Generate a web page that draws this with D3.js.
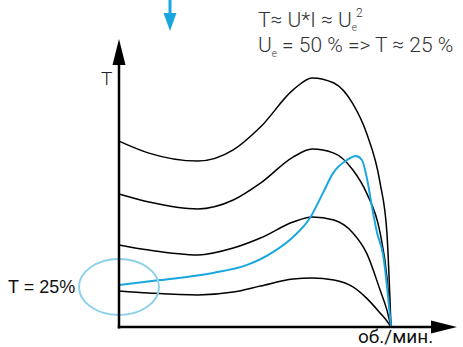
<!DOCTYPE html>
<html><head><meta charset="utf-8">
<script src="https://cdn.jsdelivr.net/npm/d3@7"></script>
<style>
html,body{margin:0;padding:0;background:#fff;}
svg{display:block;}
</style></head>
<body>
<svg id="chart" width="463" height="347"></svg>
<script>
// Speed grid (% of synchronous speed) shared by the black torque curves
const speedGrid = [0, 11, 29, 42, 52, 64, 71, 79, 86, 91, 96, 98.5, 100];
// Torque curves (% of max scale) for decreasing supply voltage
const torqueU100 = [65.0, 60.8, 58.0, 61.9, 69.9, 82.9, 87.1, 85.3, 78.0, 67.8, 50.3, 32.9, 0];
const torqueU80  = [46.5, 43.7, 41.3, 44.4, 50.3, 59.4, 62.2, 60.8, 54.9, 46.9, 32.9, 17.5, 0];
const torqueU65  = [28.7, 26.9, 25.2, 27.6, 31.1, 36.7, 38.5, 37.4, 32.9, 25.9, 12.9, 5.9, 0];
const torqueU45  = [12.6, 11.9, 11.2, 12.2, 14.3, 16.8, 17.1, 16.4, 14.0, 10.1, 4.9, 2.1, 0];
// Load (blue) curve
const loadSpeed  = [0, 15.1, 34.6, 47.1, 56.6, 64.0, 70.2, 75.0, 78.7, 83.8, 87.1, 89.3, 91.5, 93.0, 94.9, 97.1, 100];
const loadTorque = [14.7, 16.4, 18.9, 21.7, 26.2, 31.5, 38.1, 46.9, 53.8, 58.4, 59.8, 58.4, 50.3, 42.0, 32.9, 25.2, 0];

const blackSeries = [torqueU100, torqueU80, torqueU65, torqueU45];

const svg = d3.select("#chart");
const x = d3.scaleLinear().domain([0, 100]).range([119, 391]);
const y = d3.scaleLinear().domain([0, 100]).range([327, 41]);

const line = d3.line().x(d => x(d[0])).y(d => y(d[1])).curve(d3.curveMonotoneX);

// Black curves
blackSeries.forEach(s => {
  svg.append("path")
    .datum(speedGrid.map((v, i) => [v, s[i]]))
    .attr("d", line)
    .attr("fill", "none")
    .attr("stroke", "#000")
    .attr("stroke-width", 1.5);
});

// Blue load curve
svg.append("path")
  .datum(loadSpeed.map((v, i) => [v, loadTorque[i]]))
  .attr("d", line)
  .attr("fill", "none")
  .attr("stroke", "#1aa7e0")
  .attr("stroke-width", 2);

// Ellipse highlight
svg.append("ellipse")
  .attr("cx", x(0)).attr("cy", 287)
  .attr("rx", 40).attr("ry", 28)
  .attr("fill", "none")
  .attr("stroke", "#8dd1ea")
  .attr("stroke-width", 2);

// Axes
svg.append("line").attr("x1", x(0)).attr("x2", x(0)).attr("y1", 60).attr("y2", 328.5)
  .attr("stroke", "#000").attr("stroke-width", 2.5);
svg.append("line").attr("x1", x(0) - 1.2).attr("x2", 436).attr("y1", y(0)).attr("y2", y(0))
  .attr("stroke", "#000").attr("stroke-width", 2.5);
svg.append("path").attr("d", `M${x(0)},39 L${x(0) + 6.5},65 L${x(0) - 6.5},65 Z`).attr("fill", "#000");
svg.append("path").attr("d", `M457,${y(0)} L431,${y(0) - 6.5} L431,${y(0) + 6.5} Z`).attr("fill", "#000");

// Blue arrow at top
svg.append("line").attr("x1", 170).attr("x2", 170).attr("y1", 0).attr("y2", 16)
  .attr("stroke", "#1aa7e0").attr("stroke-width", 3);
svg.append("path").attr("d", "M163.5,13 L176.5,13 L170,31 Z").attr("fill", "#1aa7e0");

// Texts
const lightFont = "Roboto, 'Liberation Sans', sans-serif";
svg.append("text").attr("x", 101).attr("y", 85)
  .attr("font-family", lightFont).attr("font-weight", 300).attr("font-size", 19).attr("fill", "#222").text("T");

svg.append("text").attr("x", 358).attr("y", 343)
  .attr("font-family", lightFont).attr("font-weight", 400).attr("font-size", 19).attr("fill", "#111").text("об./мин.");

svg.append("text").attr("x", 8).attr("y", 293)
  .attr("font-family", "'Liberation Sans', Arial, sans-serif").attr("font-size", 18).attr("fill", "#111").text("T = 25%");

const t1 = svg.append("text").attr("x", 258).attr("y", 27)
  .attr("font-family", lightFont).attr("font-weight", 300).attr("font-size", 21).attr("fill", "#333");
t1.append("tspan").text("T≈ U*I ≈ U");
t1.append("tspan").attr("font-size", 10).attr("dy", 4).text("e");
t1.append("tspan").attr("font-size", 12).attr("dy", -14).attr("dx", -1).text("2");

const t2 = svg.append("text").attr("x", 258).attr("y", 52)
  .attr("font-family", lightFont).attr("font-weight", 300).attr("font-size", 21).attr("fill", "#333");
t2.append("tspan").text("U");
t2.append("tspan").attr("font-size", 10).attr("dy", 5).text("e");
t2.append("tspan").attr("dy", -5).text(" = 50 % => T ≈ 25 %");
</script>
</body></html>
